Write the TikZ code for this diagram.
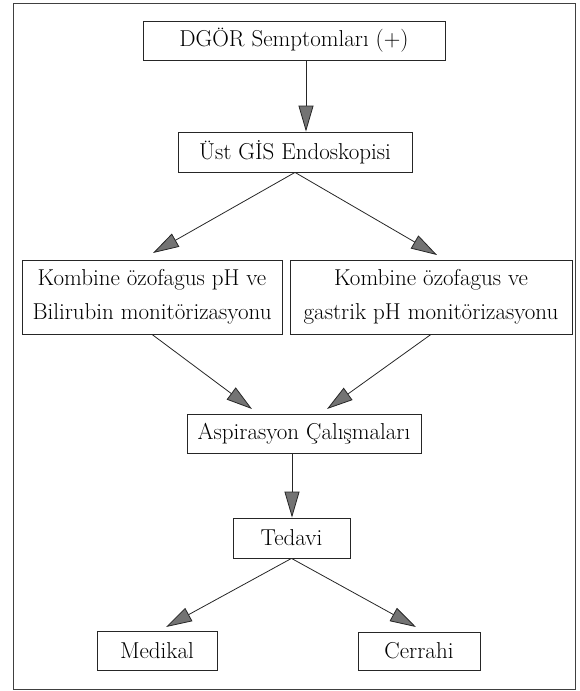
\documentclass[tikz,border=0pt]{standalone}
\usetikzlibrary{arrows.meta}
\begin{document}
\begin{tikzpicture}[x=1pt,y=-1pt,
  box/.style={draw=black!85,line width=0.8pt,inner sep=0pt,align=center,
    font=\fontsize{23}{34}\selectfont},
  arr/.style={draw=black!85,line width=0.8pt,
    -{Triangle[length=26pt,width=15pt,fill=black!55]}}]
\useasboundingbox (0,0) rectangle (580,691);
\draw[draw=black!75,line width=0.9pt] (13,3) rectangle (575,689);

\node[box,minimum width=302pt,minimum height=39pt] (b1) at (294,40.5) {DGÖR Semptomları (+)};
\node[box,minimum width=234pt,minimum height=40pt] (b2) at (295,152) {Üst GİS Endoskopisi};
\node[box,minimum width=260pt,minimum height=74pt] (b3l) at (152,297) {Kombine özofagus pH ve\\Bilirubin monitörizasyonu};
\node[box,minimum width=282pt,minimum height=74pt] (b3r) at (431,297) {Kombine özofagus ve\\gastrik pH monitörizasyonu};
\node[box,minimum width=234pt,minimum height=39pt] (b4) at (304,433.5) {Aspirasyon Çalışmaları};
\node[box,minimum width=117pt,minimum height=40pt] (b5) at (291.5,538) {Tedavi};
\node[box,minimum width=120pt,minimum height=39pt] (b6) at (157,650.5) {Medikal};
\node[box,minimum width=122pt,minimum height=38pt] (b7) at (419,651) {Cerrahi};

\coordinate (x1) at (306,0);
\coordinate (x4) at (292,0);
\coordinate (t3l) at (153,253);
\coordinate (t3r) at (437,255);
\coordinate (t4l) at (252,409);
\coordinate (t4r) at (327,409);
\coordinate (t6) at (166,627);
\coordinate (t7) at (416,627);

\draw[arr] (b1.south -| x1) -- (b2.north -| x1);
\draw[arr] (b2.south) -- (t3l);
\draw[arr] (b2.south) -- (t3r);
\draw[arr] (b3l.south) -- (t4l);
\draw[arr] (b3r.south) -- (t4r);
\draw[arr] (b4.south -| x4) -- (b5.north -| x4);
\draw[arr] (b5.south) -- (t6);
\draw[arr] (b5.south) -- (t7);
\end{tikzpicture}
\end{document}
